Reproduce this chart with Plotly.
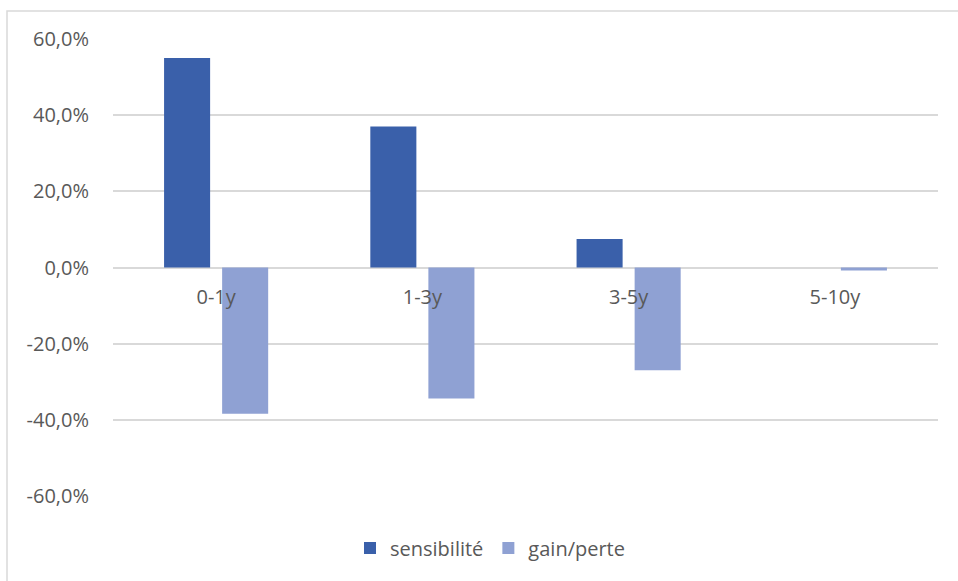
import plotly.graph_objects as go

# Maturity buckets and the two series (fractions, shown as percentages)
categories = ["0-1y", "1-3y", "3-5y", "5-10y"]
sensibilite = [0.55, 0.37, 0.075, 0.0]
gain_perte = [-0.384, -0.344, -0.27, -0.008]
y_ticks = [-0.6, -0.4, -0.2, 0.0, 0.2, 0.4, 0.6]

# French-style percent labels with a plain hyphen for negatives
y_tick_text = [f"{v * 100:.1f}%".replace(".", ",") for v in y_ticks]

W, H = 958, 581
L, R, T, B = 113, 20, 39, 85
plot_w = W - L - R
plot_h = H - T - B

text_color = "#595959"
grid_color = "#D9D9D9"
font_family = "Open Sans, sans-serif"

fig = go.Figure()
fig.add_trace(go.Bar(name="sensibilité", x=categories, y=sensibilite,
                     marker=dict(color="#3A60AA", line=dict(width=0))))
fig.add_trace(go.Bar(name="gain/perte", x=categories, y=gain_perte,
                     marker=dict(color="#8FA1D3", line=dict(width=0))))


def px_x(px):
    return (px - L) / plot_w


def px_y(py):
    return (H - B - py) / plot_h


# chart-area frame (only the top and left edges fall inside the page)
fig.add_shape(type="rect", xref="paper", yref="paper",
              x0=px_x(7), x1=px_x(W + 30), y0=px_y(H + 30), y1=px_y(11),
              line=dict(color=grid_color, width=1.5), fillcolor="rgba(0,0,0,0)",
              layer="below")

fig.update_layout(
    width=W, height=H,
    margin=dict(l=L, r=R, t=T, b=B),
    paper_bgcolor="white", plot_bgcolor="white",
    barmode="group",
    bargap=0.437,
    bargroupgap=0.207,
    font=dict(family=font_family, size=20, color=text_color),
    showlegend=True,
    legend=dict(orientation="h", x=px_x(490), xanchor="center",
                y=px_y(548), yanchor="middle",
                font=dict(size=20, color=text_color),
                itemwidth=30, traceorder="normal"),
    xaxis=dict(
        type="category",
        anchor="free", position=0.5,
        showline=False, showgrid=False, zeroline=False,
        ticks="", ticklabelstandoff=15,
        tickfont=dict(size=20, color=text_color),
    ),
    yaxis=dict(
        range=[-0.6, 0.6],
        tickvals=y_ticks,
        ticktext=y_tick_text,
        showgrid=True, gridcolor=grid_color, gridwidth=1.5,
        zeroline=True, zerolinecolor=grid_color, zerolinewidth=1.5,
        showline=False, ticks="", ticklabelstandoff=23,
        tickfont=dict(size=20, color=text_color),
    ),
)

fig.write_html("out.html")
